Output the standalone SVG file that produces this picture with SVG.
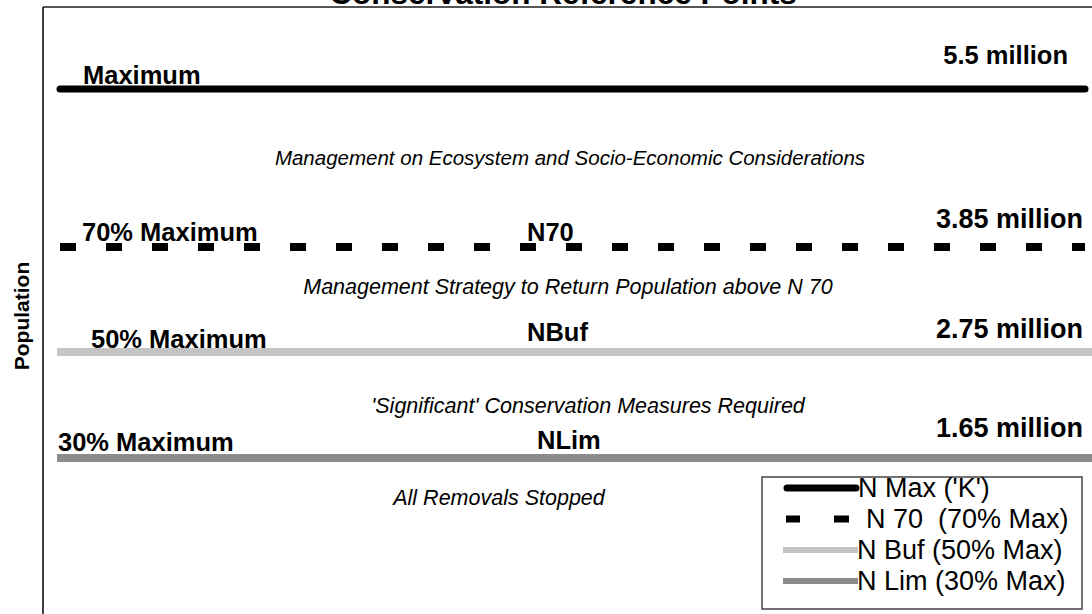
<svg xmlns="http://www.w3.org/2000/svg" width="1092" height="614" viewBox="0 0 1092 614">
<style>
.b{font-family:"Liberation Sans",Arial,sans-serif;font-weight:bold;font-size:25.5px;fill:#000}
.m{font-size:27px}
.i{font-family:"Liberation Sans",Arial,sans-serif;font-style:italic;font-size:21.5px;fill:#000}
.l{font-family:"Liberation Sans",Arial,sans-serif;font-size:27px;fill:#000}
.max{stroke:#000;stroke-width:7;stroke-linecap:round;fill:none}
.n70{stroke:#000;stroke-width:8;stroke-dasharray:16 30;fill:none}
.buf{stroke:#c4c4c4;stroke-width:8;fill:none}
.lim{stroke:#8c8c8c;stroke-width:8;fill:none}
</style>
<rect width="1092" height="614" fill="#fff"/>
<g id="frame">
<line x1="43" y1="7" x2="1092" y2="7" stroke="#555" stroke-width="2"/>
<line x1="43" y1="7" x2="43" y2="614" stroke="#000" stroke-width="1.5"/>
</g>
<text class="b" x="563" y="4" text-anchor="middle" style="font-size:31.5px">Conservation Reference Points</text>
<text class="b" transform="translate(29,316) rotate(-90)" text-anchor="middle" style="font-size:21px">Population</text>
<g id="connectors">
<line class="max" x1="60" y1="89" x2="1085" y2="89"/>
<line class="n70" x1="60" y1="247" x2="1085" y2="247"/>
<line class="buf" x1="57" y1="352" x2="1092" y2="352"/>
<line class="lim" x1="57" y1="458" x2="1092" y2="458"/>
</g>
<g id="n-max">
<text class="b" x="83" y="84">Maximum</text>
<text class="b" x="1068" y="64" text-anchor="end">5.5 million</text>
</g>
<text class="i" x="570" y="165" text-anchor="middle" style="font-size:20.5px">Management on Ecosystem and Socio-Economic Considerations</text>
<g id="n-70">
<text class="b" x="82" y="241">70% Maximum</text>
<text class="b" x="527" y="241">N70</text>
<text class="b m" x="1083" y="228" text-anchor="end">3.85 million</text>
</g>
<text class="i" x="568" y="294" text-anchor="middle">Management Strategy to Return Population above N 70</text>
<g id="n-buf">
<text class="b" x="91" y="348">50% Maximum</text>
<text class="b" x="527" y="341">NBuf</text>
<text class="b m" x="1083" y="338" text-anchor="end">2.75 million</text>
</g>
<text class="i" x="588" y="413" text-anchor="middle">'Significant' Conservation Measures Required</text>
<g id="n-lim">
<text class="b" x="58" y="451">30% Maximum</text>
<text class="b" x="537" y="449">NLim</text>
<text class="b m" x="1083" y="437" text-anchor="end">1.65 million</text>
</g>
<text class="i" x="499" y="505" text-anchor="middle">All Removals Stopped</text>
<g id="legend">
<rect x="762" y="477" width="320" height="132" fill="#fff" stroke="#444" stroke-width="1.5"/>
<line class="max" x1="787" y1="488" x2="856" y2="488"/>
<text class="l" x="858" y="497">N Max ('K')</text>
<line stroke="#000" stroke-width="7" x1="786" y1="519" x2="800" y2="519"/>
<line stroke="#000" stroke-width="7" x1="834" y1="519" x2="849" y2="519"/>
<text class="l" x="866" y="528" xml:space="preserve">N 70  (70% Max)</text>
<line class="buf" style="stroke-width:6" x1="783" y1="550" x2="858" y2="550"/>
<text class="l" x="857" y="559">N Buf (50% Max)</text>
<line class="lim" style="stroke-width:6" x1="783" y1="581" x2="858" y2="581"/>
<text class="l" x="857" y="590">N Lim (30% Max)</text>
</g>
</svg>
